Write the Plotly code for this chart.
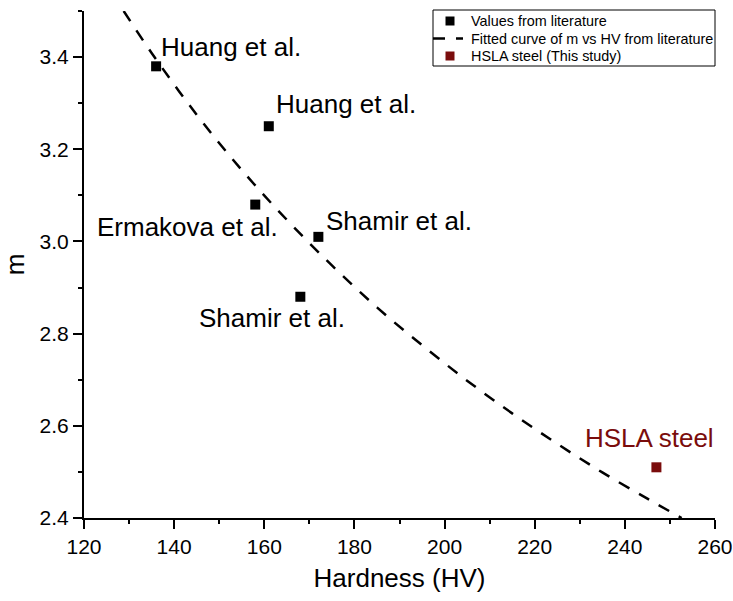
import plotly.graph_objects as go

# ---- data ----
lit_hv = [136, 161, 158, 172, 168]
lit_m = [3.38, 3.25, 3.08, 3.01, 2.88]
lit_labels = ["Huang et al.", "Huang et al.", "Ermakova et al.", "Shamir et al.", "Shamir et al."]

fit_hv = [128.8, 135, 145, 155, 165, 175, 185, 195, 205, 215, 225, 235, 245, 252.6]
fit_m = [3.50, 3.409, 3.275, 3.155, 3.047, 2.948, 2.857, 2.775, 2.698, 2.627, 2.561, 2.499, 2.442, 2.40]

hsla_hv = [247]
hsla_m = [2.51]
hsla_labels = ["HSLA steel"]

x_ticks = [120, 140, 160, 180, 200, 220, 240, 260]
y_ticks = [2.4, 2.6, 2.8, 3.0, 3.2, 3.4]
y_tick_text = ["2.4", "2.6", "2.8", "3.0", "3.2", "3.4"]

series_names = ["Values from literature", "Fitted curve of m vs HV from literature", "HSLA steel (This study)"]

# ---- styles ----
FONT = "Arial, Liberation Sans, sans-serif"
DARK_RED = "#7a0c0c"
CURVE_DASH = "12px,11px"
# label placement (xanchor, yanchor, xshift, yshift) per literature point
lit_label_style = [
    ("left", "bottom", 3, 2),
    ("left", "bottom", 5, 5),
    ("right", "top", 25, -5),
    ("left", "bottom", 6, -1),
    ("right", "top", 47, -4),
]
hsla_label_style = [("center", "bottom", -7, 12)]

fig = go.Figure()

fig.add_trace(go.Scatter(
    x=lit_hv, y=lit_m, mode="markers", name=series_names[0], showlegend=False,
    marker=dict(symbol="square", size=10, color="black"),
))
fig.add_trace(go.Scatter(
    x=fit_hv, y=fit_m, mode="lines", name=series_names[1], showlegend=False,
    line=dict(color="black", width=2.5, dash=CURVE_DASH, shape="spline"),
))
fig.add_trace(go.Scatter(
    x=hsla_hv, y=hsla_m, mode="markers", name=series_names[2], showlegend=False,
    marker=dict(symbol="square", size=10, color=DARK_RED),
))

for xv, yv, txt, (xa, ya, xs, ys) in zip(lit_hv, lit_m, lit_labels, lit_label_style):
    fig.add_annotation(x=xv, y=yv, text=txt, showarrow=False, xanchor=xa, yanchor=ya,
                       xshift=xs, yshift=ys, font=dict(family=FONT, size=26, color="black"))
for xv, yv, txt, (xa, ya, xs, ys) in zip(hsla_hv, hsla_m, hsla_labels, hsla_label_style):
    fig.add_annotation(x=xv, y=yv, text=txt, showarrow=False, xanchor=xa, yanchor=ya,
                       xshift=xs, yshift=ys, font=dict(family=FONT, size=26, color=DARK_RED))

# ---- legend box (drawn in pixels from the top-right corner of the plot area) ----
pix = dict(xref="paper", yref="paper", xsizemode="pixel", ysizemode="pixel", xanchor=1, yanchor=1)
fig.add_shape(type="rect", x0=-282, x1=0, y0=1, y1=-55, line=dict(color="black", width=1),
              fillcolor="white", layer="above", **pix)
row_dy = [-10, -27.5, -45]
# row 1: black square
fig.add_shape(type="rect", x0=-269.5, x1=-260.5, y0=row_dy[0] + 4.5, y1=row_dy[0] - 4.5,
              line=dict(width=0), fillcolor="black", layer="above", **pix)
# row 2: dashed line
fig.add_shape(type="line", x0=-282, x1=-252, y0=row_dy[1], y1=row_dy[1],
              line=dict(color="black", width=2.5, dash=CURVE_DASH), layer="above", **pix)
# row 3: dark red square
fig.add_shape(type="rect", x0=-269.5, x1=-260.5, y0=row_dy[2] + 4.5, y1=row_dy[2] - 4.5,
              line=dict(width=0), fillcolor=DARK_RED, layer="above", **pix)
for name, dy in zip(series_names, row_dy):
    fig.add_annotation(x=1, y=1, xref="paper", yref="paper", xshift=-246, yshift=dy,
                       xanchor="left", yanchor="middle", showarrow=False, text=name,
                       font=dict(family=FONT, size=14.4, color="black"))

axis_common = dict(
    showline=True, linecolor="black", linewidth=2, showgrid=False, zeroline=False,
    ticks="outside", ticklen=9, tickwidth=2, tickcolor="black",
    tickfont=dict(family=FONT, size=21, color="black"),
    mirror=False, automargin=False,
)

fig.update_xaxes(
    range=[120, 260], tickvals=x_ticks,
    minor=dict(dtick=10, ticks="outside", ticklen=4, tickwidth=2, tickcolor="black", showgrid=False),
    title=dict(text="Hardness (HV)", font=dict(family=FONT, size=26, color="black"), standoff=12),
    **axis_common,
)
fig.update_yaxes(
    range=[2.4, 3.5], tickvals=y_ticks, ticktext=y_tick_text,
    minor=dict(dtick=0.1, tick0=2.4, ticks="outside", ticklen=4, tickwidth=2, tickcolor="black", showgrid=False),
    title=dict(text="m", font=dict(family=FONT, size=26, color="black"), standoff=14),
    **axis_common,
)

fig.update_layout(
    width=733, height=601, autosize=False,
    margin=dict(l=84, r=18, t=11, b=83, pad=0),
    plot_bgcolor="white", paper_bgcolor="white",
    font=dict(family=FONT, color="black"),
    showlegend=False,
)

fig.write_html("out.html")
